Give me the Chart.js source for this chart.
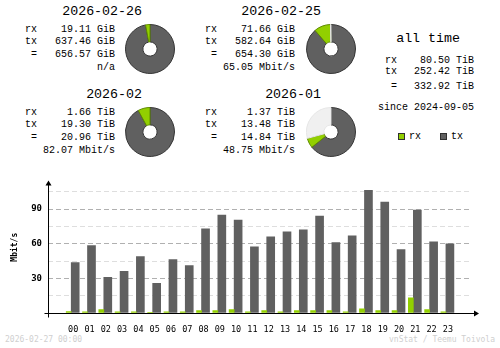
<!DOCTYPE html>
<html>
<head>
<meta charset="utf-8">
<script src="https://cdn.jsdelivr.net/npm/chart.js@4.4.1/dist/chart.umd.min.js"></script>
<style>
  html, body { margin: 0; padding: 0; background: #fff; }
  #page { position: relative; width: 500px; height: 348px; overflow: hidden; font-family: "Liberation Mono", "DejaVu Sans Mono", monospace; color: #000; }
  .t { position: absolute; white-space: pre; line-height: 1; transform: translateY(-50%); font-size: 10px; }
  .big { font-size: 13.3px; }
  .foot { font-size: 8px; color: #cfcfcf; font-family: "DejaVu Sans Mono", monospace; }
  canvas { position: absolute; }
  .box { position: absolute; width: 5px; height: 5px; border: 1px solid #303030; }
</style>
</head>
<body>
<div id="page">
  <canvas id="pie0" width="50" height="50" style="left:125px;top:24px"></canvas>
  <canvas id="pie1" width="50" height="50" style="left:306px;top:24px"></canvas>
  <canvas id="pie2" width="50" height="50" style="left:125px;top:107px"></canvas>
  <canvas id="pie3" width="50" height="50" style="left:306px;top:107px"></canvas>
  <canvas id="hours" width="500" height="165" style="left:0;top:170px"></canvas>
</div>
<script>
// summary values
const dayLabels = ["2026-02-26", "2026-02-25"];
const dayRx = [19.11, 71.66];       // GiB
const dayTx = [637.46, 582.64];     // GiB
const dayTotal = [656.57, 654.30];  // GiB
const dayRate = ["n/a", "65.05 Mbit/s"];

const monthLabels = ["2026-02", "2026-01"];
const monthRx = [1.66, 1.37];       // TiB
const monthTx = [19.30, 13.48];     // TiB
const monthTotal = [20.96, 14.84];  // TiB
const monthRate = ["82.07 Mbit/s", "48.75 Mbit/s"];

const allTime = [80.50, 252.42, 332.92]; // rx, tx, total TiB
const sinceDate = "2024-09-05";

// hourly averages, Mbit/s
const hours = ["00", "01", "02", "03", "04", "05", "06", "07", "08", "09", "10", "11",
               "12", "13", "14", "15", "16", "17", "18", "19", "20", "21", "22", "23"];
const rxRate = [1.2, 1.1, 2.9, 1.1, 1.1, 0.2, 1.1, 1.1, 2.0, 2.0, 2.9, 1.1,
                2.0, 1.1, 2.0, 2.0, 2.0, 1.1, 3.7, 2.0, 2.0, 13.1, 2.9, 1.1];
const txRate = [43.7, 58.3, 30.9, 36.0, 48.9, 25.7, 46.3, 41.1, 72.9, 84.9, 80.6, 57.4,
                66.0, 70.3, 72.0, 84.0, 60.9, 66.9, 106.3, 96.0, 54.9, 89.1, 61.7, 60.0];

const RX = "#92cf00";
const TX = "#606060";
const page = document.getElementById("page");

function put(text, x, y, align, cls) {
  const d = document.createElement("div");
  d.className = "t " + (cls || "");
  d.textContent = text;
  d.style.top = y + "px";
  if (align === "right") d.style.right = (500 - x) + "px";
  else d.style.left = x + "px";
  page.appendChild(d);
}

function block(title, rx, tx, total, unit, rate, col, y0) {
  const labelRight = col === 0 ? 37 : 217;
  const valueRight = col === 0 ? 115 : 295;
  const titleRight = col === 0 ? 142 : 321;
  put(title, titleRight, y0 + 12, "right", "big");
  put("rx", labelRight, y0 + 30, "right");
  put("tx", labelRight, y0 + 42, "right");
  put("=", labelRight, y0 + 55, "right");
  put(rx.toFixed(2) + " " + unit, valueRight, y0 + 30, "right");
  put(tx.toFixed(2) + " " + unit, valueRight, y0 + 42, "right");
  put(total.toFixed(2) + " " + unit, valueRight, y0 + 55, "right");
  put(rate, valueRight, y0 + 68, "right");
}

dayLabels.forEach((d, i) => block(d, dayRx[i], dayTx[i], dayTotal[i], "GiB", dayRate[i], i, 0));
monthLabels.forEach((m, i) => block(m, monthRx[i], monthTx[i], monthTotal[i], "TiB", monthRate[i], i, 83));

// all time
put("all time", 460, 39, "right", "big");
["rx", "tx", "="].forEach((l, i) => {
  const y = [61, 72, 87][i];
  put(l, 397, y, "right");
  put(allTime[i].toFixed(2) + " TiB", 474, y, "right");
});
put("since " + sinceDate, 474, 108, "right");

// legend
[[RX, 398, "rx"], [TX, 440, "tx"]].forEach(([c, x, l]) => {
  const b = document.createElement("div");
  b.className = "box";
  b.style.left = x + "px";
  b.style.top = "133px";
  b.style.background = c;
  page.appendChild(b);
  put(l, x + 11, 137, "left");
});

put("2026-02-27 00:00", 5, 340, "left", "foot");
put("vnStat / Teemu Toivola", 495, 340, "right", "foot");

// pies: tx, rx, then the part missing compared to the bigger period
function pie(id, rx, tx, total, maxTotal) {
  new Chart(document.getElementById(id), {
    type: "doughnut",
    data: {
      labels: ["tx", "rx", "rest"],
      datasets: [{
        data: [tx, rx, Math.max(maxTotal - total, 0)],
        backgroundColor: [TX, RX, "#f0f0f0"],
        borderColor: ["#363636", "#5f8a00", "#e6e6e6"],
        borderWidth: 1,
      }],
    },
    options: {
      responsive: false,
      animation: false,
      events: [],
      cutout: "29%",
      plugins: { legend: { display: false }, tooltip: { enabled: false } },
    },
  });
}

const maxDay = Math.max(...dayTotal);
const maxMonth = Math.max(...monthTotal);
pie("pie0", dayRx[0], dayTx[0], dayTotal[0], maxDay);
pie("pie1", dayRx[1], dayTx[1], dayTotal[1], maxDay);
pie("pie2", monthRx[0], monthTx[0], monthTotal[0], maxMonth);
pie("pie3", monthRx[1], monthTx[1], monthTotal[1], maxMonth);

// black axes with arrow heads
const axisLines = {
  id: "axisLines",
  afterDraw(chart) {
    const { ctx, chartArea: a } = chart;
    const x0 = Math.round(a.left) + 0.5;
    const y0 = Math.round(a.bottom) + 0.5;
    ctx.save();
    ctx.strokeStyle = "#000";
    ctx.fillStyle = "#000";
    ctx.lineWidth = 1;
    ctx.beginPath();
    ctx.moveTo(x0, a.top + 2);
    ctx.lineTo(x0, y0 + 4);
    ctx.moveTo(x0 - 4, y0);
    ctx.lineTo(a.right + 4, y0);
    ctx.stroke();
    ctx.beginPath();
    ctx.moveTo(x0, a.top - 1);
    ctx.lineTo(x0 - 3, a.top + 4);
    ctx.lineTo(x0 + 3, a.top + 4);
    ctx.closePath();
    ctx.fill();
    ctx.beginPath();
    ctx.moveTo(a.right + 7, y0);
    ctx.lineTo(a.right + 2, y0 - 3);
    ctx.lineTo(a.right + 2, y0 + 3);
    ctx.closePath();
    ctx.fill();
    ctx.restore();
  },
};

const tickFont = { family: "DejaVu Sans Mono", size: 9, weight: "bold" };

new Chart(document.getElementById("hours"), {
  type: "bar",
  data: {
    labels: hours,
    datasets: [
      { label: "rx", data: rxRate, backgroundColor: RX, barThickness: 5 },
      { label: "tx", data: txRate, backgroundColor: TX, barThickness: 8 },
    ],
  },
  options: {
    responsive: false,
    animation: false,
    events: [],
    layout: { padding: { top: 10, right: 28, left: 0, bottom: 0 } },
    plugins: { legend: { display: false }, tooltip: { enabled: false } },
    scales: {
      x: {
        type: "linear",
        min: -0.8824,
        max: 24.059,
        afterBuildTicks: (s) => { s.ticks = hours.map((h, i) => ({ value: i })); },
        afterFit: (s) => { s.height = 22; },
        grid: { display: false },
        border: { display: false },
        ticks: {
          autoSkip: false,
          maxRotation: 0,
          padding: 4,
          labelOffset: 2,
          color: "#000",
          font: { family: "DejaVu Sans Mono", size: 8.5 },
          callback: (v) => hours[v],
        },
      },
      y: {
        min: 0,
        max: 114,
        afterBuildTicks: (s) => { s.ticks = s.ticks.filter((t) => t.value % 15 === 0); },
        afterFit: (s) => { s.width = 48; },
        border: { display: false, dash: [5, 3] },
        grid: {
          drawTicks: false,
          color: (c) => (c.tick.value === 0 ? "transparent" : c.tick.value % 30 === 0 ? "#b0b0b0" : "#dedede"),
        },
        ticks: {
          stepSize: 15,
          padding: 6,
          color: "#000",
          font: tickFont,
          callback: (v) => (v > 0 && v % 30 === 0 ? v : ""),
        },
        title: {
          display: true,
          text: "Mbit/s",
          color: "#000",
          font: { family: "DejaVu Sans Mono", size: 8, weight: "bold" },
          padding: { top: 10, bottom: 0 },
        },
      },
    },
  },
  plugins: [axisLines],
});
</script>
</body>
</html>
